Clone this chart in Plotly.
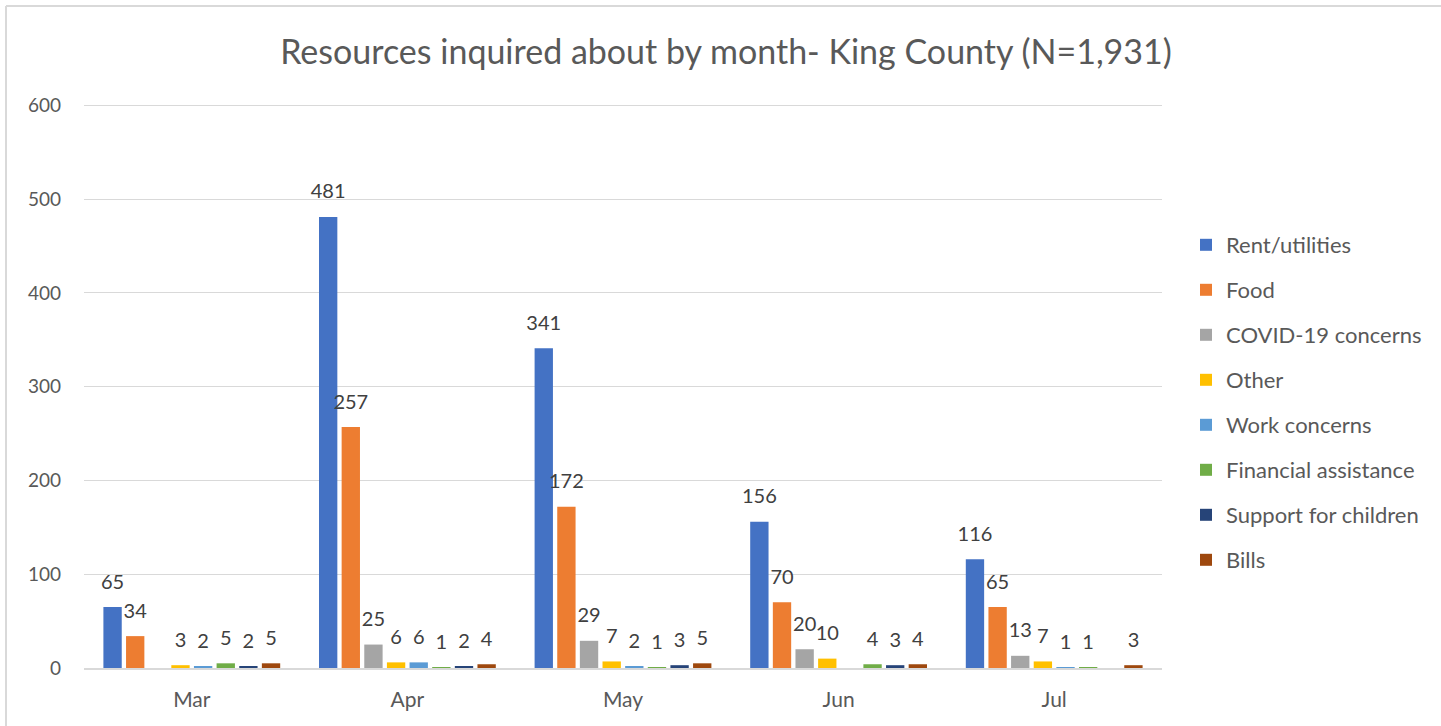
import plotly.graph_objects as go

months = ["Mar", "Apr", "May", "Jun", "Jul"]
rent = [65, 481, 341, 156, 116]
food = [34, 257, 172, 70, 65]
covid = [None, 25, 29, 20, 13]
other = [3, 6, 7, 10, 7]
work = [2, 6, 2, None, 1]
financial = [5, 1, 1, 4, 1]
support = [2, 2, 3, 3, None]
bills = [5, 4, 5, 4, 3]

series_names = ["Rent/utilities", "Food", "COVID-19 concerns", "Other",
                "Work concerns", "Financial assistance", "Support for children", "Bills"]
series_values = [rent, food, covid, other, work, financial, support, bills]
colors = ["#4472C4", "#ED7D31", "#A5A5A5", "#FFC000",
          "#5B9BD5", "#70AD47", "#264478", "#9E480E"]

FONT = "Lato"
W, H = 1441, 726
YMAX = 610
L, R, B = 84, 279, 58
T = round(668 - YMAX * 563 / 600)
BARGAP = 0.16

fig = go.Figure()
for i, (name, vals, col) in enumerate(zip(series_names, series_values, colors)):
    fig.add_trace(go.Bar(
        x=months, y=vals, name=name,
        marker=dict(color=col, line=dict(width=0)),
        offsetgroup=f"s{i}",
        legendgroup=f"g{i}",
    ))
for i, (name, vals) in enumerate(zip(series_names, series_values)):
    fig.add_trace(go.Scatter(
        x=months, y=vals, name=name, mode="markers+text",
        marker=dict(size=20, opacity=0),
        text=[("" if v is None else str(v)) for v in vals],
        textposition="top center",
        textfont=dict(family=FONT, size=20, color="#404040"),
        offsetgroup=f"s{i}",
        cliponaxis=False, showlegend=False, hoverinfo="skip",
    ))

pw = W - L - R
ph = H - T - B
bx = (6 - L) / pw
by = (H - B - 6) / ph

fig.update_layout(
    width=W, height=H,
    margin=dict(l=L, r=R, t=T, b=B, autoexpand=False),
    paper_bgcolor="white", plot_bgcolor="white",
    barmode="group", bargap=BARGAP, bargroupgap=0.19,
    scattermode="group", scattergap=BARGAP,
    font=dict(family=FONT, color="#595959"),
    title=dict(text="Resources inquired about by month- King County (N=1,931)",
               x=726 / W, xref="container", xanchor="center",
               y=1 - 52 / H, yref="container", yanchor="middle",
               font=dict(family=FONT, size=34, color="#595959")),
    xaxis=dict(showgrid=False, showline=True, linecolor="#d9d9d9", linewidth=1.5,
               ticks="", tickfont=dict(family=FONT, size=21, color="#595959"),
               ticklabelstandoff=12),
    yaxis=dict(range=[0, YMAX], tickvals=[0, 100, 200, 300, 400, 500, 600],
               showgrid=True, gridcolor="#d9d9d9",
               gridwidth=1.2, zeroline=False, ticks="",
               tickfont=dict(family=FONT, size=19, color="#595959"),
               ticklabelstandoff=22),
    legend=dict(x=(1186 - L) / pw, xanchor="left", y=(H - B - 224) / ph, yanchor="top",
                font=dict(family=FONT, size=22, color="#595959"),
                traceorder="grouped", tracegroupgap=13.4, bgcolor="rgba(0,0,0,0)"),
    shapes=[
        dict(type="line", xref="paper", yref="paper", x0=bx, x1=bx, y0=by, y1=-0.3,
             line=dict(color="#d9d9d9", width=2)),
        dict(type="line", xref="paper", yref="paper", x0=bx, x1=1.5, y0=by, y1=by,
             line=dict(color="#d9d9d9", width=2)),
    ],
)

fig.write_html("out.html", config={"displayModeBar": False},
               post_script="document.body.style.margin='0';")
